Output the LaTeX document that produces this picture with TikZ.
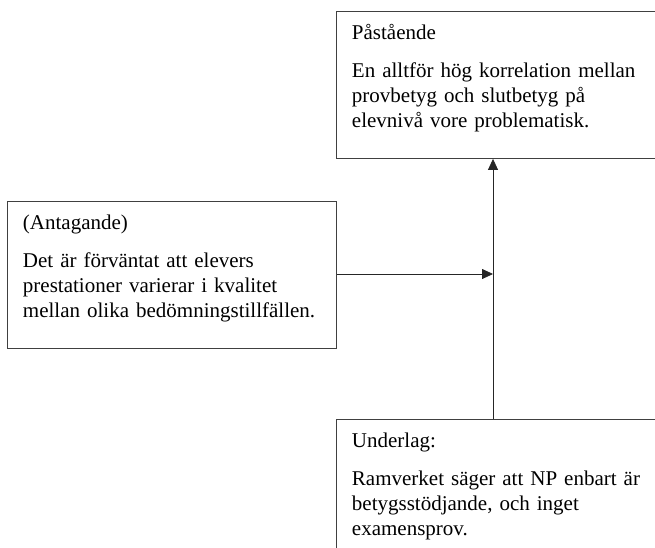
\documentclass[tikz,border=0pt]{standalone}
\usepackage{fontspec}
\setmainfont{Liberation Serif}
\usetikzlibrary{arrows.meta}
\newcommand{\firstline}{\rule{0pt}{20pt}}
\newcommand{\lastline}{\rule[-23pt]{0pt}{23pt}}
\begin{document}
\begin{tikzpicture}[x=1pt,y=-1pt,
    argbox/.style={draw=black!75,line width=0.9pt,rectangle,anchor=north west,
      inner xsep=15.5pt,inner ysep=8pt,text width=298pt,align=left,
      font=\fontsize{21}{25}\selectfont},
    arr/.style={draw=black!85,line width=0.8pt,-{Triangle[length=11pt,width=10pt]}}]
  \useasboundingbox (0,0) rectangle (655,548);
  \clip (0,0) rectangle (655,548);
  \node[argbox] (claim) at (336,11)
    {\firstline P\aa st\aa ende\\[13pt]En alltför hög korrelation mellan\\provbetyg och slutbetyg på\\elevnivå vore problematisk.\lastline};
  \node[argbox] (assume) at (7,201)
    {\firstline(Antagande)\\[13pt]Det är förväntat att elevers\\prestationer varierar i kvalitet\\\mbox{mellan olika bedömningstillfällen.}\lastline};
  \node[argbox] (ground) at (336,419)
    {\firstline Underlag:\\[13pt]\mbox{Ramverket säger att NP enbart är}\\betygsstödjande, och inget\\examensprov.\lastline};
  \coordinate (joint) at (493,274);
  \draw[arr] (ground.north -| joint) -- (claim.south -| joint);
  \draw[arr] (assume.east |- joint) -- (joint);
\end{tikzpicture}
\end{document}
